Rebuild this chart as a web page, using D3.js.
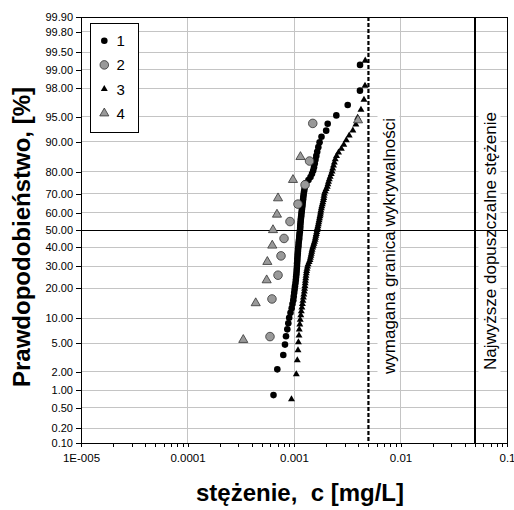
<!DOCTYPE html>
<html><head><meta charset="utf-8">
<script src="https://cdn.jsdelivr.net/npm/d3@7"></script>
<style>
html,body{margin:0;padding:0;background:#fff;}
svg{display:block;font-family:Arial,"Liberation Sans",sans-serif;}
line.crisp, rect.crisp{shape-rendering:crispEdges;}
</style></head><body>
<svg id="chart" width="514" height="510"></svg>
<script>
// ---- data (concentrations in mg/L, sorted ascending; y = Blom plotting position of rank) ----
const seriesNames = ["1", "2", "3", "4"];
const series1 = [6.42e-4, 6.97e-4, 7.93e-4, 8.23e-4, 8.41e-4, 8.65e-4, 8.84e-4, 9.01e-4, 9.27e-4, 9.51e-4,
  9.68e-4, 9.85e-4, 9.94e-4, 1.004e-3, 1.013e-3, 1.022e-3, 1.033e-3, 1.040e-3, 1.046e-3, 1.053e-3,
  1.058e-3, 1.062e-3, 1.067e-3, 1.069e-3, 1.074e-3, 1.076e-3, 1.081e-3, 1.085e-3, 1.090e-3, 1.093e-3,
  1.100e-3, 1.104e-3, 1.109e-3, 1.117e-3, 1.121e-3, 1.126e-3, 1.133e-3, 1.139e-3, 1.144e-3, 1.146e-3,
  1.151e-3, 1.156e-3, 1.161e-3, 1.169e-3, 1.174e-3, 1.181e-3, 1.189e-3, 1.197e-3, 1.202e-3, 1.210e-3,
  1.218e-3, 1.225e-3, 1.233e-3, 1.244e-3, 1.257e-3, 1.274e-3, 1.296e-3, 1.368e-3, 1.429e-3, 1.476e-3,
  1.515e-3, 1.541e-3, 1.567e-3, 1.591e-3, 1.620e-3, 1.652e-3, 1.692e-3, 1.739e-3, 1.812e-3, 2.005e-3,
  2.072e-3, 2.497e-3, 3.194e-3, 4.163e-3, 4.170e-3];
const series2 = [5.95e-4, 6.21e-4, 7.08e-4, 7.55e-4, 8.06e-4, 9.17e-4, 1.09e-3, 1.27e-3, 1.40e-3, 1.50e-3];
const series3 = [9.47e-4, 1.051e-3, 1.074e-3, 1.090e-3, 1.100e-3, 1.114e-3, 1.121e-3, 1.133e-3, 1.144e-3, 1.158e-3,
  1.171e-3, 1.186e-3, 1.199e-3, 1.212e-3, 1.225e-3, 1.236e-3, 1.249e-3, 1.257e-3, 1.266e-3, 1.274e-3,
  1.280e-3, 1.288e-3, 1.296e-3, 1.305e-3, 1.313e-3, 1.325e-3, 1.339e-3, 1.357e-3, 1.386e-3, 1.413e-3,
  1.426e-3, 1.441e-3, 1.454e-3, 1.467e-3, 1.479e-3, 1.498e-3, 1.518e-3, 1.538e-3, 1.558e-3, 1.578e-3,
  1.591e-3, 1.606e-3, 1.620e-3, 1.634e-3, 1.648e-3, 1.662e-3, 1.676e-3, 1.692e-3, 1.706e-3, 1.721e-3,
  1.736e-3, 1.751e-3, 1.766e-3, 1.777e-3, 1.789e-3, 1.808e-3, 1.824e-3, 1.844e-3, 1.864e-3, 1.885e-3,
  1.902e-3, 1.913e-3, 1.930e-3, 1.964e-3, 2.005e-3, 2.050e-3, 2.081e-3, 2.109e-3, 2.145e-3, 2.186e-3,
  2.236e-3, 2.275e-3, 2.310e-3, 2.350e-3, 2.392e-3, 2.439e-3, 2.509e-3, 2.618e-3, 2.782e-3, 2.934e-3,
  3.098e-3, 3.299e-3, 3.571e-3, 3.811e-3, 3.955e-3, 4.254e-3, 4.541e-3, 4.642e-3, 4.663e-3];
const series4 = [3.34e-4, 4.37e-4, 5.54e-4, 5.62e-4, 6.25e-4, 6.35e-4, 6.92e-4, 7.08e-4, 9.78e-4, 1.15e-3, 3.99e-3];

const yTickValues = [0.1, 0.2, 0.5, 1, 2, 5, 10, 20, 30, 40, 50, 60, 70, 80, 90, 95, 98, 99, 99.5, 99.8, 99.9];
const yTickLabels = ["0.10", "0.20", "0.50", "1.00", "2.00", "5.00", "10.00", "20.00", "30.00", "40.00", "50.00",
  "60.00", "70.00", "80.00", "90.00", "95.00", "98.00", "99.00", "99.50", "99.80", "99.90"];
const xDecades = [1e-5, 1e-4, 1e-3, 1e-2, 1e-1];
const xTickLabels = ["1E-005", "0.0001", "0.001", "0.01", "0.1"];
const detectionLimit = 0.005;
const maxAllowed = 0.05;
const detectionText = "wymagana granica wykrywalności";
const maxText = "Najwyższe dopuszczalne stężenie";
const xTitle = "stężenie,  c [mg/L]";
const yTitle = "Prawdopodobieństwo, [%]";

// ---- helpers ----
function probit(p) {
  const a = [-3.969683028665376e+01, 2.209460984245205e+02, -2.759285104469687e+02, 1.383577518672690e+02, -3.066479806614716e+01, 2.506628277459239e+00];
  const b = [-5.447609879822406e+01, 1.615858368580409e+02, -1.556989798598866e+02, 6.680131188771972e+01, -1.328068155288572e+01];
  const c = [-7.784894002430293e-03, -3.223964580411365e-01, -2.400758277161838e+00, -2.549732539343734e+00, 4.374664141464968e+00, 2.938163982698783e+00];
  const d = [7.784695709041462e-03, 3.224671290700398e-01, 2.445134137142996e+00, 3.754408661907416e+00];
  const pl = 0.02425, ph = 1 - pl;
  let q, r;
  if (p < pl) { q = Math.sqrt(-2 * Math.log(p)); return (((((c[0]*q+c[1])*q+c[2])*q+c[3])*q+c[4])*q+c[5]) / ((((d[0]*q+d[1])*q+d[2])*q+d[3])*q+1); }
  if (p > ph) { q = Math.sqrt(-2 * Math.log(1 - p)); return -(((((c[0]*q+c[1])*q+c[2])*q+c[3])*q+c[4])*q+c[5]) / ((((d[0]*q+d[1])*q+d[2])*q+d[3])*q+1); }
  q = p - 0.5; r = q * q;
  return (((((a[0]*r+a[1])*r+a[2])*r+a[3])*r+a[4])*r+a[5])*q / (((((b[0]*r+b[1])*r+b[2])*r+b[3])*r+b[4])*r+1);
}
// Blom plotting position (percent) of a sorted sample
const blom = (i, n) => 100 * (i + 1 - 0.375) / (n + 0.25);

// ---- layout ----
const L = 81, T = 17, R = 507, B = 443;
const svg = d3.select("#chart");
const x = d3.scaleLog().domain([1e-5, 0.1]).range([L, R]);
const yz = d3.scaleLinear().domain([probit(0.001), probit(0.999)]).range([B, T]);
const y = p => yz(probit(p / 100));

// gridlines
const grid = svg.append("g");
grid.selectAll("line.h").data(yTickValues.filter(v => v !== 50)).join("line").attr("class", "crisp")
  .attr("x1", L).attr("x2", R).attr("y1", d => y(d)).attr("y2", d => y(d))
  .attr("stroke", "#c4c4c4").attr("stroke-width", 1);
grid.selectAll("line.v").data(xDecades.slice(1, -1)).join("line").attr("class", "crisp")
  .attr("x1", d => x(d)).attr("x2", d => x(d)).attr("y1", T).attr("y2", B)
  .attr("stroke", "#c4c4c4").attr("stroke-width", 1);

// limit lines
svg.append("line").attr("x1", x(detectionLimit)).attr("x2", x(detectionLimit)).attr("y1", T).attr("y2", B)
  .attr("stroke", "#000").attr("stroke-width", 2.2).attr("stroke-dasharray", "4,2");
svg.append("line").attr("class", "crisp").attr("x1", x(maxAllowed)).attr("x2", x(maxAllowed)).attr("y1", T).attr("y2", B)
  .attr("stroke", "#000").attr("stroke-width", 2);

// rotated labels with white boxes
function boxedLabel(txt, cx, cy) {
  const g = svg.append("g").attr("transform", `translate(${cx},${cy}) rotate(-90)`);
  const rect = g.append("rect").attr("fill", "#fff");
  const t = g.append("text").attr("text-anchor", "middle").attr("font-size", 17).attr("fill", "#000").text(txt);
  const bb = t.node().getBBox();
  rect.attr("x", bb.x - 3).attr("y", bb.y - 2).attr("width", bb.width + 6).attr("height", bb.height + 3);
}
boxedLabel(detectionText, 394.5, 246);
boxedLabel(maxText, 495.5, 241);

// 50% line
svg.append("line").attr("class", "crisp").attr("x1", L).attr("x2", R).attr("y1", y(50)).attr("y2", y(50))
  .attr("stroke", "#000").attr("stroke-width", 1);

// axes
const yAxis = d3.axisLeft(yz).tickValues(yTickValues.map(v => probit(v / 100)))
  .tickFormat((d, i) => yTickLabels[i]).tickSize(5).tickPadding(3);
const gy = svg.append("g").attr("transform", `translate(${L},0)`).call(yAxis);
gy.select(".domain").remove();
gy.selectAll("text").attr("font-size", 11).attr("font-family", "Arial, 'Liberation Sans', sans-serif").attr("fill", "#000");
gy.selectAll("line").attr("stroke", "#000").attr("class", "crisp");

const xAxis = d3.axisBottom(x).tickValues(x.ticks())
  .tickFormat(d => { const k = xDecades.findIndex(v => Math.abs(v - d) / v < 1e-6); return k >= 0 ? xTickLabels[k] : ""; })
  .tickSize(4).tickPadding(7);
const gx = svg.append("g").attr("transform", `translate(0,${B})`).call(xAxis);
gx.select(".domain").remove();
gx.selectAll("text").attr("font-size", 11.5).attr("font-family", "Arial, 'Liberation Sans', sans-serif").attr("fill", "#000");
gx.selectAll("line").attr("stroke", "#000").attr("class", "crisp");

// series
const styles = [
  { data: series1, type: d3.symbolCircle, size: 34, fill: "#000", stroke: "none" },
  { data: series2, type: d3.symbolCircle, size: 58, fill: "#999", stroke: "#333" },
  { data: series3, type: d3.symbolTriangle, size: 21, fill: "#000", stroke: "none" },
  { data: series4, type: d3.symbolTriangle, size: 36, fill: "#999", stroke: "#333" }
];
styles.forEach(s => {
  const n = s.data.length;
  svg.append("g").selectAll("path").data(s.data).join("path")
    .attr("d", d3.symbol().type(s.type).size(s.size))
    .attr("transform", (d, i) => `translate(${x(d)},${y(blom(i, n))})`)
    .attr("fill", s.fill).attr("stroke", s.stroke).attr("stroke-width", 0.8);
});

// plot border
svg.append("rect").attr("class", "crisp").attr("x", L).attr("y", T).attr("width", R - L).attr("height", B - T)
  .attr("fill", "none").attr("stroke", "#000").attr("stroke-width", 1);

// legend
const lg = svg.append("g");
lg.append("rect").attr("class", "crisp").attr("x", 90.5).attr("y", 23.5).attr("width", 48).attr("height", 109)
  .attr("fill", "#fff").attr("stroke", "#000").attr("stroke-width", 1);
seriesNames.forEach((name, i) => {
  const yy = 40.7 + i * 24.2;
  const s = styles[i];
  lg.append("path").attr("d", d3.symbol().type(s.type).size(s.size)).attr("transform", `translate(104.3,${yy})`)
    .attr("fill", s.fill).attr("stroke", s.stroke).attr("stroke-width", 0.8);
  lg.append("text").attr("x", 116.5).attr("y", yy + 5.5).attr("font-size", 15).attr("fill", "#000").text(name);
});

// axis titles
svg.append("text").attr("x", 300).attr("y", 501).attr("text-anchor", "middle")
  .attr("font-size", 24).attr("font-weight", "bold").style("white-space", "pre").text(xTitle);
svg.append("text").attr("transform", "translate(30,237) rotate(-90)").attr("text-anchor", "middle")
  .attr("font-size", 24).attr("font-weight", "bold").text(yTitle);
</script>
</body></html>
